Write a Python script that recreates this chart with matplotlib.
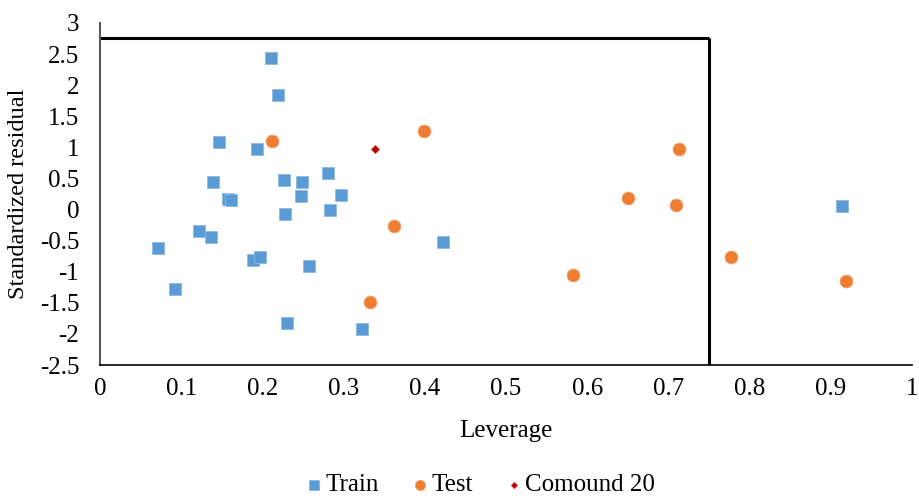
import numpy as np
import matplotlib.pyplot as plt

# leverage / standardized residual
train_x = [0.211, 0.219, 0.146, 0.193, 0.139, 0.158, 0.161, 0.227, 0.249, 0.247,
           0.281, 0.297, 0.283, 0.228, 0.122, 0.137, 0.072, 0.093, 0.188, 0.197,
           0.257, 0.230, 0.323, 0.422, 0.914]
train_y = [2.44, 1.84, 1.08, 0.98, 0.44, 0.17, 0.16, 0.48, 0.44, 0.21,
           0.58, 0.23, 0.00, -0.08, -0.34, -0.44, -0.62, -1.27, -0.81, -0.76,
           -0.90, -1.82, -1.92, -0.53, 0.05]

test_x = [0.212, 0.399, 0.362, 0.333, 0.713, 0.650, 0.709, 0.583, 0.777, 0.919]
test_y = [1.10, 1.26, -0.27, -1.48, 0.98, 0.18, 0.07, -1.06, -0.76, -1.15]

cmpd_x = [0.339]
cmpd_y = [0.97]

h_star = 0.75
resid_lim = 2.75

plt.rcParams['font.family'] = ['Liberation Serif', 'DejaVu Serif']

fig = plt.figure(figsize=(9.19, 4.98), dpi=100)
ax = fig.add_axes([0.1088, 0.267, 0.8835, 0.687])

ax.scatter(train_x, train_y, marker='s', s=80, color='#5B9BD5',
           edgecolors='#8DB9E3', linewidths=0.6, label='Train', zorder=3)
ax.scatter(test_x, test_y, marker='o', s=85, color='#ED7D31',
           edgecolors='#F2A26E', linewidths=0.6, label='Test', zorder=3)
ax.scatter(cmpd_x, cmpd_y, marker='D', s=22, color='#C00000',
           edgecolors='#D0D0D0', linewidths=0.4, label='Comound 20', zorder=4)

# applicability domain box
ax.plot([0, h_star], [resid_lim, resid_lim], color='black', lw=2.2, zorder=2,
        solid_capstyle='butt')
ax.plot([h_star, h_star], [-2.5, resid_lim], color='black', lw=2.2, zorder=2,
        solid_capstyle='butt')

ax.set_xlim(0, 1)
ax.set_ylim(-2.5, 3)
ax.set_xticks(np.arange(0, 1.01, 0.1))
ax.set_xticklabels(['0', '0.1', '0.2', '0.3', '0.4', '0.5', '0.6', '0.7', '0.8', '0.9', '1'])
ax.set_yticks(np.arange(-2.5, 3.01, 0.5))
ax.set_yticklabels(['-2.5', '-2', '-1.5', '-1', '-0.5', '0', '0.5', '1', '1.5', '2', '2.5', '3'])
ax.tick_params(length=0, labelsize=18, colors='black')
ax.tick_params(axis='y', pad=15)
ax.tick_params(axis='x', pad=9)

for s in ['top', 'right']:
    ax.spines[s].set_visible(False)
ax.spines['left'].set_color('#595959')
ax.spines['left'].set_linewidth(1.5)
ax.spines['bottom'].set_color('black')
ax.spines['bottom'].set_linewidth(1.2)

ax.set_xlabel('Leverage', fontsize=18, labelpad=15)
ax.set_ylabel('Standardized residual', fontsize=17.5, labelpad=8)

fig.legend(loc='lower center', bbox_to_anchor=(0.523, -0.042), ncol=3, frameon=False,
           fontsize=18, handlelength=0.6, handletextpad=0.15, columnspacing=1.35,
           markerscale=0.8)

fig.savefig('out.png', dpi=100)
